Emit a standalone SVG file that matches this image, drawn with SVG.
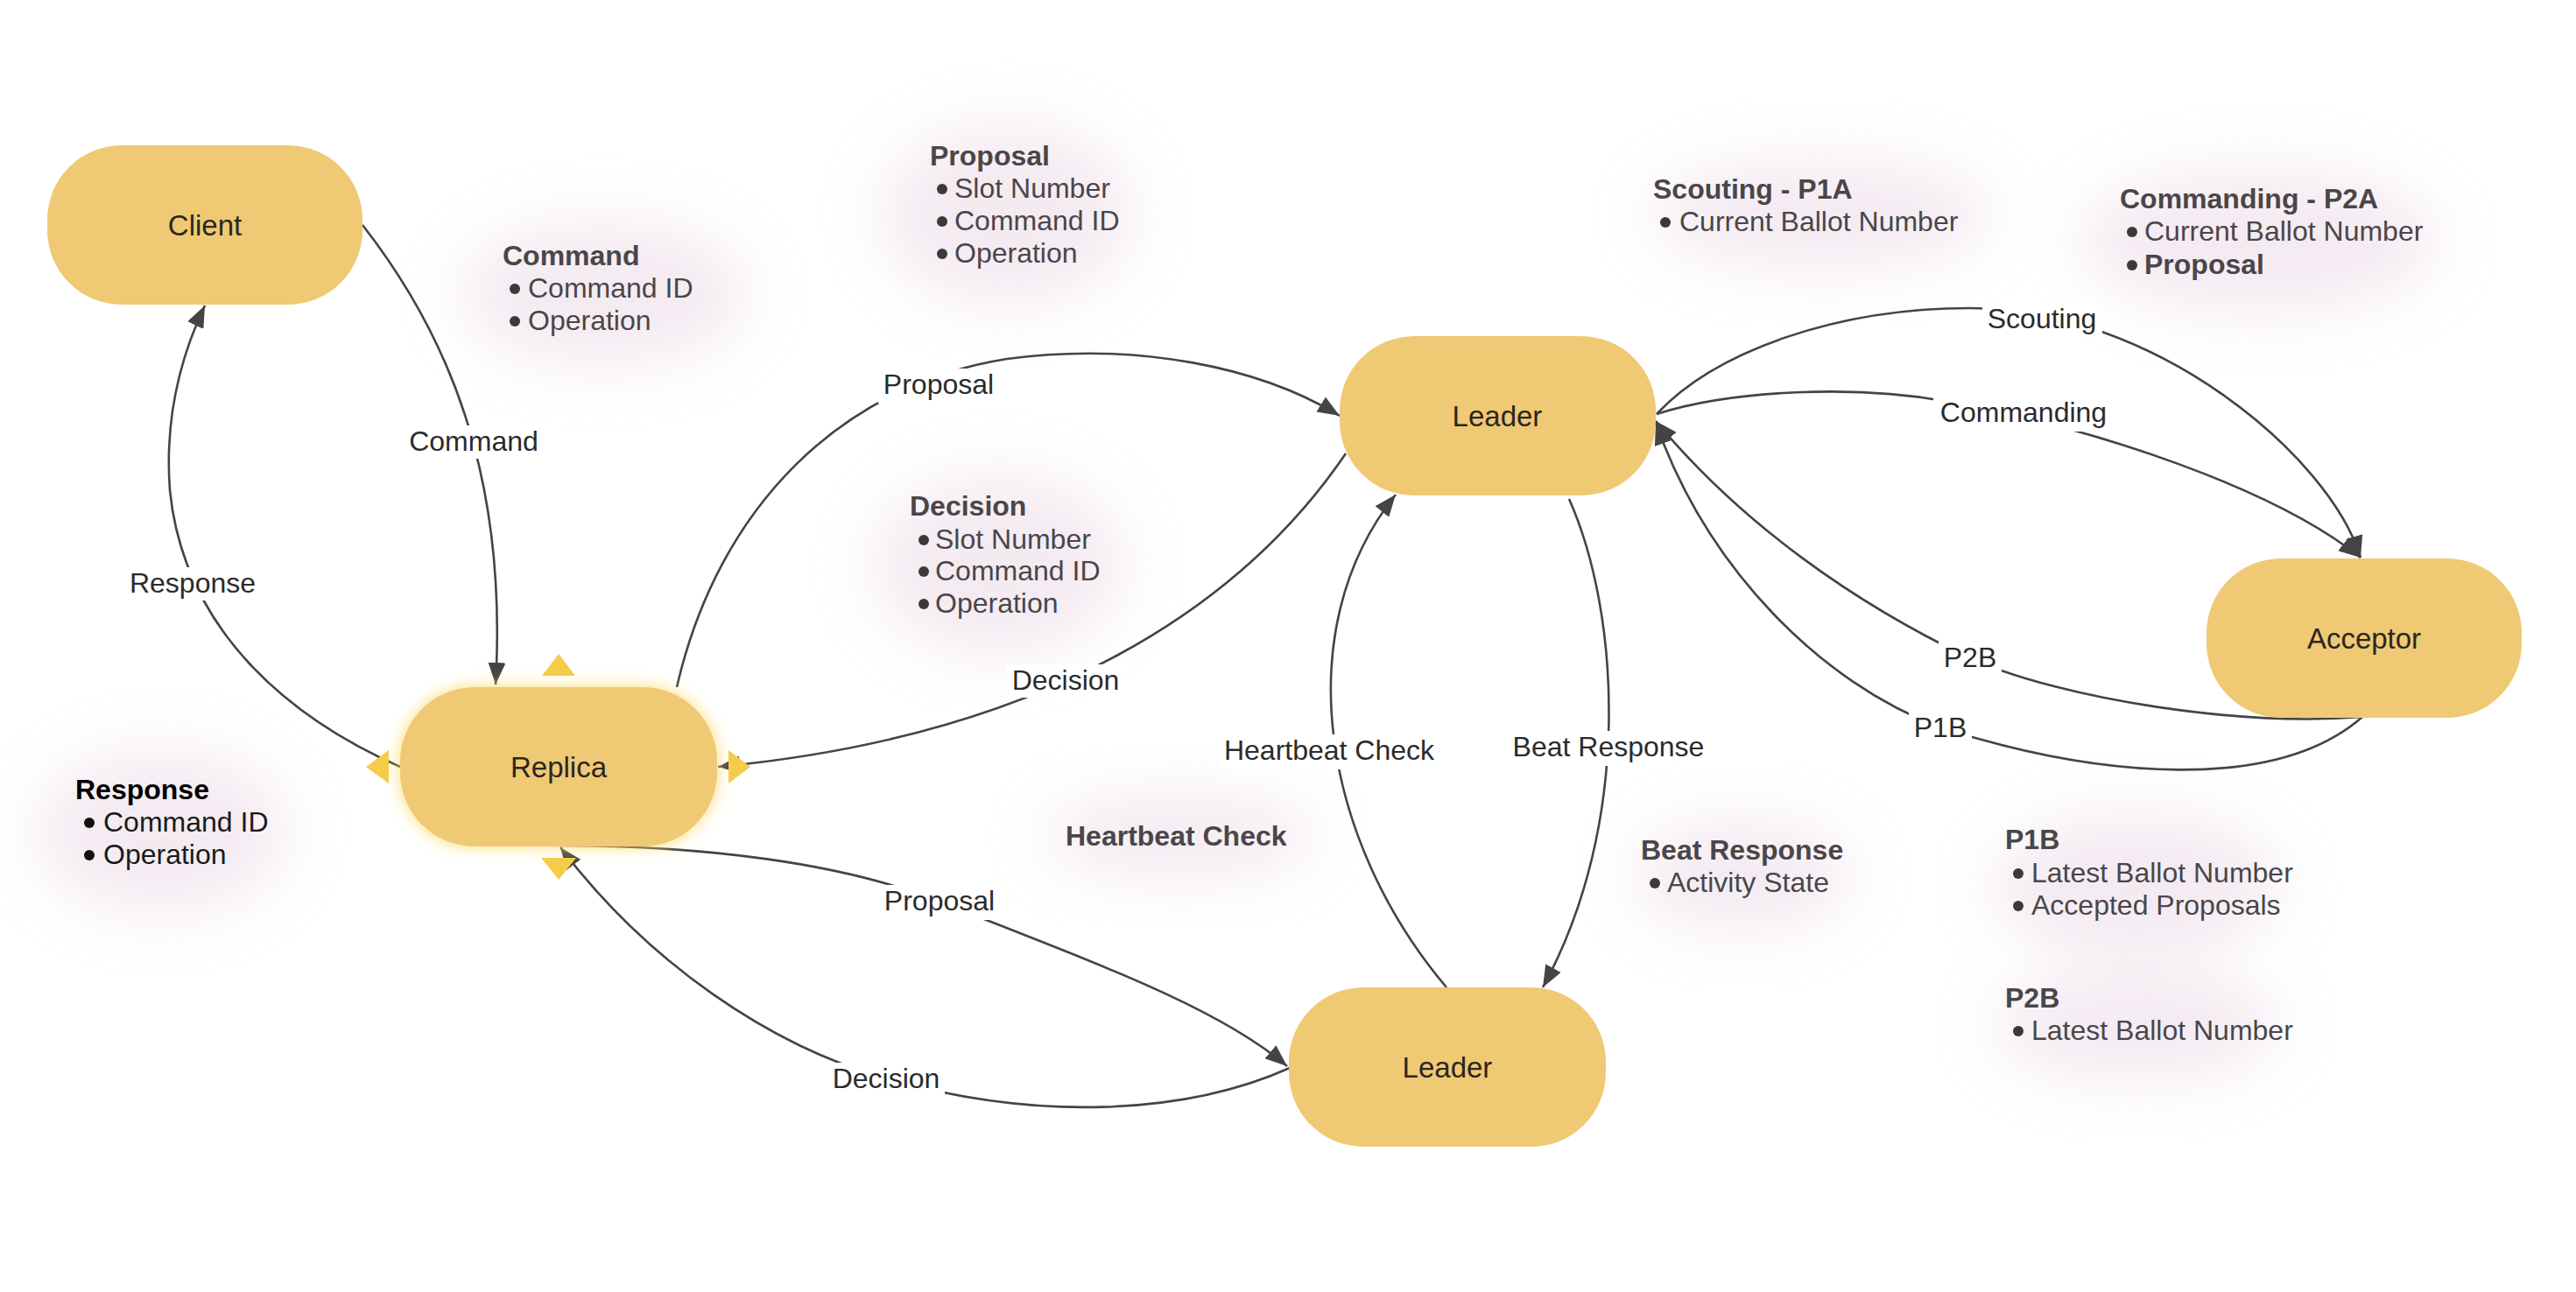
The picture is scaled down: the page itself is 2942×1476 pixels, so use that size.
<svg xmlns="http://www.w3.org/2000/svg" width="2942" height="1476" viewBox="0 0 2942 1476">
<defs>
<style>
.node{fill:#f0c974}
.nlabel{font-family:"Liberation Sans",Arial,sans-serif;font-size:33px;fill:#2b2620;text-anchor:middle}
.edge{fill:none;stroke:#444;stroke-width:2.6}
.elabel{font-family:"Liberation Sans",Arial,sans-serif;font-size:32px;fill:#2b2b2b;text-anchor:middle}
.lbg{fill:#ffffff}
.ntitle{font-family:"Liberation Sans",Arial,sans-serif;font-size:32px;font-weight:bold;fill:#4a4648}
.nitem{font-family:"Liberation Sans",Arial,sans-serif;font-size:32px;fill:#4a4648}
.bul{fill:#3a3a3a}
.glow{fill:#ead8e5;opacity:0.5}
.handle{fill:#f5cb4a}
</style>
<filter id="blur" x="-50%" y="-50%" width="200%" height="200%"><feGaussianBlur stdDeviation="32"/></filter>
<filter id="halo" x="-20%" y="-30%" width="140%" height="160%">
<feGaussianBlur in="SourceAlpha" stdDeviation="9" result="b"/>
<feFlood flood-color="#ffd860" flood-opacity="0.9"/>
<feComposite in2="b" operator="in" result="g"/>
<feMerge><feMergeNode in="g"/><feMergeNode in="SourceGraphic"/></feMerge>
</filter>
<marker id="arr" markerUnits="userSpaceOnUse" markerWidth="26" markerHeight="20" refX="25" refY="10" orient="auto">
<path d="M0,0 L25,10 L0,20 z" fill="#444"/>
</marker>
</defs>
<rect width="2942" height="1476" fill="#ffffff"/>

<g id="note-glows">
<ellipse class="glow" cx="690" cy="335" rx="165" ry="85" filter="url(#blur)"/>
<ellipse class="glow" cx="1150" cy="245" rx="145" ry="105" filter="url(#blur)"/>
<ellipse class="glow" cx="1140" cy="645" rx="145" ry="105" filter="url(#blur)"/>
<ellipse class="glow" cx="185" cy="950" rx="145" ry="95" filter="url(#blur)"/>
<ellipse class="glow" cx="2080" cy="245" rx="195" ry="65" filter="url(#blur)"/>
<ellipse class="glow" cx="2580" cy="275" rx="205" ry="85" filter="url(#blur)"/>
<ellipse class="glow" cx="1347" cy="955" rx="155" ry="50" filter="url(#blur)"/>
<ellipse class="glow" cx="1990" cy="1000" rx="125" ry="65" filter="url(#blur)"/>
<ellipse class="glow" cx="2440" cy="1012" rx="165" ry="85" filter="url(#blur)"/>
<ellipse class="glow" cx="2440" cy="1172" rx="165" ry="65" filter="url(#blur)"/>
</g>

<g id="connectors">
<path id="e-command" class="edge" marker-end="url(#arr)" d="M414,257 C510,380 580,540 566,782"/>
<path id="e-response" class="edge" marker-end="url(#arr)" d="M457,876 C330,820 210,720 194,560 C188,480 205,410 234,349"/>
<path id="e-proposal1" class="edge" marker-end="url(#arr)" d="M773,785 C820,580 960,440 1150,410 C1300,390 1440,420 1530,475"/>
<path id="e-decision1" class="edge" marker-end="url(#arr)" d="M1537,518 C1420,690 1200,840 820,876"/>
<path id="e-proposal2" class="edge" marker-end="url(#arr)" d="M639,966 C800,966 960,985 1073,1030 C1250,1100 1390,1150 1470,1218"/>
<path id="e-decision2" class="edge" marker-end="url(#arr)" d="M1473,1220 C1350,1275 1180,1280 1012,1232 C880,1195 740,1100 640,968"/>
<path id="e-heartbeat" class="edge" marker-end="url(#arr)" d="M1652,1128 C1510,960 1470,720 1594,565"/>
<path id="e-beat" class="edge" marker-end="url(#arr)" d="M1792,570 C1850,700 1865,940 1762,1128"/>
<path id="e-scouting" class="edge" marker-end="url(#arr)" d="M1892,473 C1960,400 2100,352 2250,352 C2460,352 2660,520 2696,637"/>
<path id="e-commanding" class="edge" marker-end="url(#arr)" d="M1892,473 C1980,445 2120,440 2220,458 C2400,490 2600,560 2696,637"/>
<path id="e-p2b" class="edge" marker-end="url(#arr)" d="M2698,819 C2560,830 2360,800 2250,752 C2120,690 1990,600 1891,481"/>
<path id="e-p1b" class="edge" marker-end="url(#arr)" d="M2698,819 C2600,905 2400,890 2216,831 C2080,780 1950,650 1891,483"/>
</g>

<g id="edge-labels">
<rect class="lbg" x="461" y="486" width="160" height="38"/><text class="elabel" x="541" y="515">Command</text>
<rect class="lbg" x="143" y="648" width="154" height="38"/><text class="elabel" x="220" y="677">Response</text>
<rect class="lbg" x="1003" y="421" width="139" height="40"/><text class="elabel" x="1072" y="450">Proposal</text>
<rect class="lbg" x="1150" y="759" width="133" height="38"/><text class="elabel" x="1217" y="788">Decision</text>
<rect class="lbg" x="1006" y="1011" width="135" height="40"/><text class="elabel" x="1073" y="1040">Proposal</text>
<rect class="lbg" x="946" y="1214" width="133" height="38"/><text class="elabel" x="1012" y="1243">Decision</text>
<rect class="lbg" x="1392" y="839" width="254" height="40"/><text class="elabel" x="1518" y="868">Heartbeat Check</text>
<rect class="lbg" x="1720" y="835" width="234" height="40"/><text class="elabel" x="1837" y="864">Beat Response</text>
<rect class="lbg" x="2264" y="346" width="137" height="40"/><text class="elabel" x="2332" y="375">Scouting</text>
<rect class="lbg" x="2208" y="453" width="206" height="40"/><text class="elabel" x="2311" y="482">Commanding</text>
<rect class="lbg" x="2214" y="733" width="72" height="38"/><text class="elabel" x="2250" y="762">P2B</text>
<rect class="lbg" x="2180" y="813" width="72" height="38"/><text class="elabel" x="2216" y="842">P1B</text>
</g>

<g id="node-client">
<rect class="node" x="54" y="166" width="360" height="182" rx="85" ry="85"/>
<text class="nlabel" x="234" y="269">Client</text>
</g>
<g id="node-replica">
<rect class="node" x="457" y="785" width="362" height="182" rx="85" ry="85" filter="url(#halo)"/>
<text class="nlabel" x="638" y="888">Replica</text>
<polygon class="handle" points="638,747 657,772 619,772"/>
<polygon class="handle" points="418,876 444,857 444,895"/>
<polygon class="handle" points="857,876 832,857 832,895"/>
<polygon class="handle" points="638,1005 618,980 658,980"/>
</g>
<g id="node-leader-top">
<rect class="node" x="1530" y="384" width="361" height="182" rx="85" ry="85"/>
<text class="nlabel" x="1710" y="487">Leader</text>
</g>
<g id="node-leader-bottom">
<rect class="node" x="1472" y="1128" width="362" height="182" rx="85" ry="85"/>
<text class="nlabel" x="1653" y="1231">Leader</text>
</g>
<g id="node-acceptor">
<rect class="node" x="2520" y="638" width="360" height="182" rx="85" ry="85"/>
<text class="nlabel" x="2700" y="741">Acceptor</text>
</g>

<g id="note-command">
<text class="ntitle" x="574" y="303">Command</text>
<circle class="bul" cx="588" cy="330" r="6"/><text class="nitem" x="603" y="340">Command ID</text>
<circle class="bul" cx="588" cy="367" r="6"/><text class="nitem" x="603" y="377">Operation</text>
</g>
<g id="note-proposal">
<text class="ntitle" x="1062" y="189">Proposal</text>
<circle class="bul" cx="1076" cy="216" r="6"/><text class="nitem" x="1090" y="226">Slot Number</text>
<circle class="bul" cx="1076" cy="253" r="6"/><text class="nitem" x="1090" y="263">Command ID</text>
<circle class="bul" cx="1076" cy="290" r="6"/><text class="nitem" x="1090" y="300">Operation</text>
</g>
<g id="note-decision">
<text class="ntitle" x="1039" y="589">Decision</text>
<circle class="bul" cx="1055" cy="617" r="6"/><text class="nitem" x="1068" y="627">Slot Number</text>
<circle class="bul" cx="1055" cy="653" r="6"/><text class="nitem" x="1068" y="663">Command ID</text>
<circle class="bul" cx="1055" cy="690" r="6"/><text class="nitem" x="1068" y="700">Operation</text>
</g>
<g id="note-response">
<text class="ntitle" x="86" y="913" style="fill:#000000">Response</text>
<circle class="bul" cx="102" cy="940" r="6" style="fill:#111"/><text class="nitem" x="118" y="950" style="fill:#1a1a1a">Command ID</text>
<circle class="bul" cx="102" cy="977" r="6" style="fill:#111"/><text class="nitem" x="118" y="987" style="fill:#1a1a1a">Operation</text>
</g>
<g id="note-scouting">
<text class="ntitle" x="1888" y="227">Scouting - P1A</text>
<circle class="bul" cx="1902" cy="254" r="6"/><text class="nitem" x="1918" y="264">Current Ballot Number</text>
</g>
<g id="note-commanding">
<text class="ntitle" x="2421" y="238">Commanding - P2A</text>
<circle class="bul" cx="2435" cy="265" r="6"/><text class="nitem" x="2449" y="275">Current Ballot Number</text>
<circle class="bul" cx="2435" cy="303" r="6"/><text class="nitem" x="2449" y="313" font-weight="bold">Proposal</text>
</g>
<g id="note-heartbeat">
<text class="ntitle" x="1217" y="966">Heartbeat Check</text>
</g>
<g id="note-beat">
<text class="ntitle" x="1874" y="982">Beat Response</text>
<circle class="bul" cx="1890" cy="1009" r="6"/><text class="nitem" x="1904" y="1019">Activity State</text>
</g>
<g id="note-p1b">
<text class="ntitle" x="2290" y="970">P1B</text>
<circle class="bul" cx="2305" cy="998" r="6"/><text class="nitem" x="2320" y="1008">Latest Ballot Number</text>
<circle class="bul" cx="2305" cy="1035" r="6"/><text class="nitem" x="2320" y="1045">Accepted Proposals</text>
</g>
<g id="note-p2b">
<text class="ntitle" x="2290" y="1151">P2B</text>
<circle class="bul" cx="2305" cy="1178" r="6"/><text class="nitem" x="2320" y="1188">Latest Ballot Number</text>
</g>
</svg>
